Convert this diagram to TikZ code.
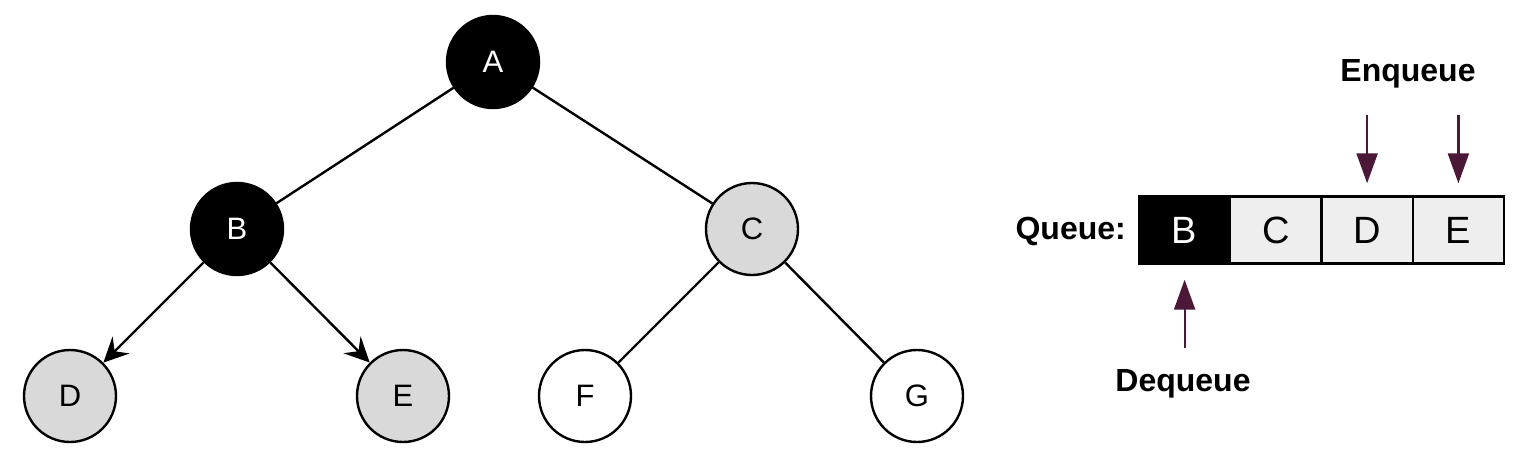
\documentclass[tikz,border=0pt]{standalone}
\usepackage{fontspec}
\setmainfont{Liberation Sans}
\usetikzlibrary{arrows.meta}
\definecolor{nodegray}{HTML}{D9D9D9}
\definecolor{cellgray}{HTML}{EEEEEE}
\definecolor{qpurple}{HTML}{4B1838}
\begin{document}
\begin{tikzpicture}[x=1pt,y=-1pt,
  tnode/.style={circle,draw=black,line width=2.4pt,minimum size=92pt,inner sep=0pt,font=\fontsize{31}{33}\selectfont},
  darknode/.style={tnode,fill=black,text=white},
  graynode/.style={tnode,fill=nodegray},
  whitenode/.style={tnode,fill=white},
  edge/.style={line width=2.4pt},
  treearrow/.style={line width=2.4pt,-{Stealth[length=25pt,width=24pt,inset=9pt]}},
  qcell/.style={rectangle,draw=black,line width=2.4pt,minimum width=91.25pt,minimum height=67pt,inner sep=0pt,font=\fontsize{38}{40}\selectfont},
  qlabel/.style={font=\bfseries\fontsize{32}{34}\selectfont,inner sep=0pt},
  qarrow/.style={draw=qpurple,line width=2.2pt,-{Triangle[length=30pt,width=21pt]},qpurple}
]
\useasboundingbox (0,0) rectangle (1529,456);

% tree nodes
\node[darknode]  (A) at (493,62)  {A};
\node[darknode]  (B) at (237,229) {B};
\node[graynode]  (C) at (752,229) {C};
\node[graynode]  (D) at (70,396)  {D};
\node[graynode]  (E) at (403,396) {E};
\node[whitenode] (F) at (585,396) {F};
\node[whitenode] (G) at (917,396) {G};

% tree edges
\draw[edge] (A) -- (B);
\draw[edge] (A) -- (C);
\draw[edge] (C) -- (F);
\draw[edge] (C) -- (G);
\draw[treearrow] (B) -- (D);
\draw[treearrow] (B) -- (E);

% queue
\node[qcell,fill=black,text=white] (qB) at (1184.6,230) {B};
\node[qcell,fill=cellgray] (qC) at (1275.9,230) {C};
\node[qcell,fill=cellgray] (qD) at (1367.1,230) {D};
\node[qcell,fill=cellgray] (qE) at (1458.4,230) {E};

\node[qlabel,anchor=east] (qlab) at (1126,231) {Queue:};

\node[qlabel] (enq) at (1408,74) {Enqueue};
\node[qlabel] (deq) at (1183,384) {Dequeue};

\coordinate (e1) at (1367.1,115);
\coordinate (e2) at (1458.4,115);
\coordinate (d1) at (1184.6,348);

\draw[qarrow,shorten >=12pt] (e1) -- (qD.north);
\draw[qarrow,shorten >=12pt] (e2) -- (qE.north);
\draw[qarrow,shorten >=15pt] (d1) -- (qB.south);
\end{tikzpicture}
\end{document}
